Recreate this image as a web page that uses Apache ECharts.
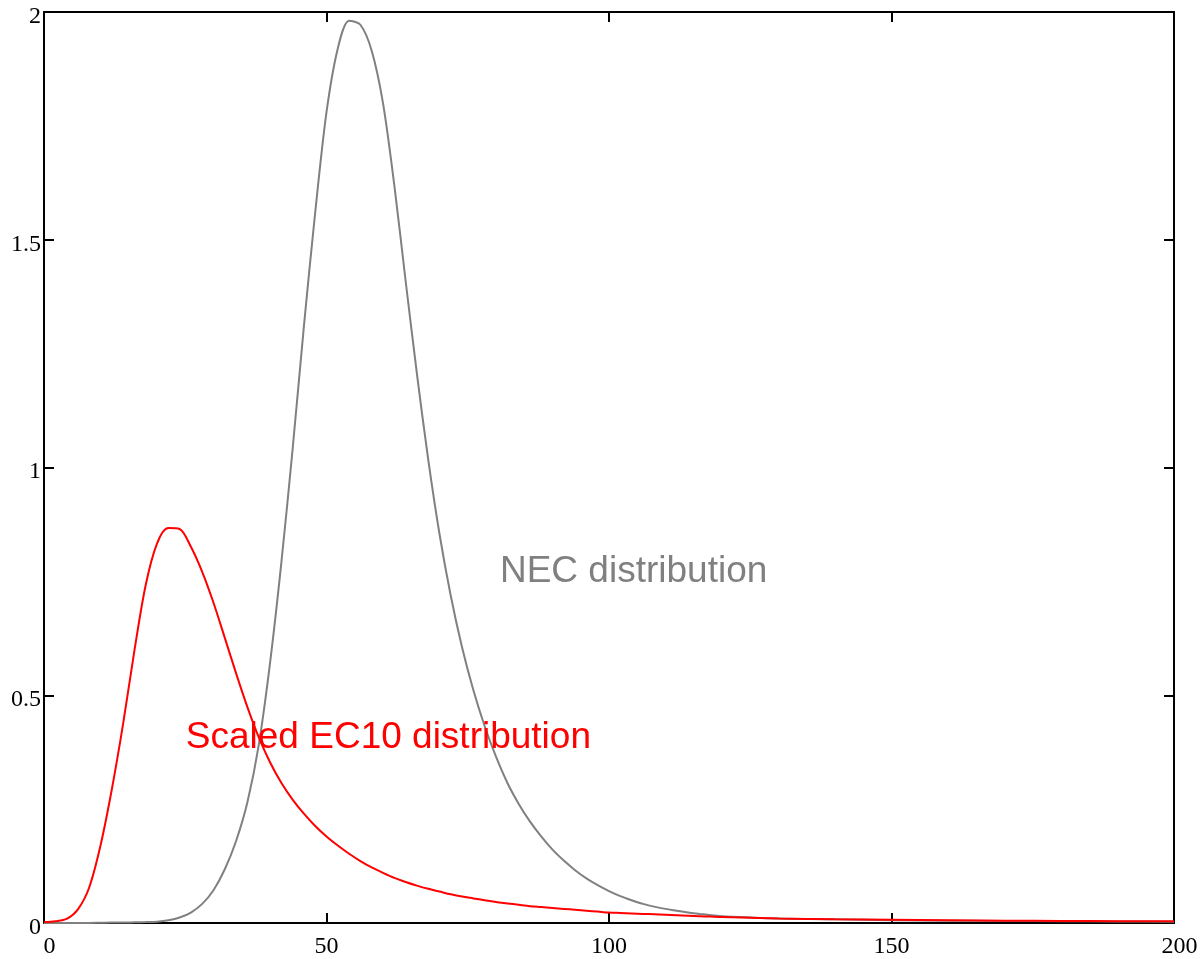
<!DOCTYPE html>
<html>
<head>
<meta charset="utf-8">
<script src="https://cdn.jsdelivr.net/npm/echarts@6/dist/echarts.min.js"></script>
<style>
  html, body { margin: 0; padding: 0; background: #fff; }
  #chart { width: 1201px; height: 959px; }
</style>
</head>
<body>
<div id="chart"></div>
<script>
// values, both curves share the same x points
const concX = [0, 2, 4, 6, 8, 10, 12, 14, 16, 18, 20, 22, 24, 26, 28, 30, 32, 34, 36, 38, 40, 42, 44, 46, 48, 50,
    52, 54, 56, 58, 60, 62, 64, 66, 68, 70, 72, 74, 76, 78, 80, 82, 84, 86, 88, 90, 92, 94, 96, 98, 100,
    102, 104, 106, 108, 110, 112, 114, 116, 118, 120, 130, 140, 150, 160, 170, 180, 190, 200];

const ec10Y = [0.002, 0.004, 0.009, 0.03, 0.078, 0.17, 0.293, 0.437, 0.598, 0.742, 0.833, 0.867, 0.865, 0.826, 0.771, 0.703, 0.626, 0.548, 0.474, 0.408, 0.353, 0.308, 0.271, 0.24, 0.213, 0.19,
    0.17, 0.152, 0.136, 0.122, 0.11, 0.099, 0.09, 0.082, 0.075, 0.069, 0.063, 0.058, 0.054, 0.05, 0.046, 0.043, 0.04, 0.037, 0.035, 0.033, 0.031, 0.029, 0.027, 0.025, 0.023,
    0.022, 0.021, 0.02, 0.019, 0.018, 0.017, 0.016, 0.015, 0.014, 0.013, 0.01, 0.008, 0.007, 0.006, 0.005, 0.0045, 0.004, 0.004];

const necY = [0, 0, 0, 0, 0, 0.0005, 0.001, 0.001, 0.0015, 0.002, 0.003, 0.006, 0.012, 0.023, 0.042, 0.072, 0.118, 0.18, 0.265, 0.39, 0.57, 0.79, 1.04, 1.31, 1.56, 1.78,
    1.92, 1.981, 1.972, 1.915, 1.8, 1.62, 1.41, 1.206, 1.018, 0.854, 0.718, 0.605, 0.511, 0.432, 0.365, 0.308, 0.262, 0.223, 0.19, 0.161, 0.137, 0.116, 0.098, 0.083, 0.07,
    0.059, 0.05, 0.042, 0.036, 0.031, 0.027, 0.023, 0.02, 0.017, 0.015, 0.01, 0.008, 0.006, 0.005, 0.0045, 0.004, 0.0035, 0.003];

const xTicks = [0, 50, 100, 150, 200];
const yTicks = [0, 0.5, 1, 1.5, 2];

const labelNec = { text: 'NEC distribution', x: 80.7, y: 0.772 };
const labelEc10 = { text: 'Scaled EC10 distribution', x: 25.1, y: 0.407 };

const zip = (xs, ys) => xs.map((x, i) => [x, ys[i]]);

const chart = echarts.init(document.getElementById('chart'));

const serifFont = { fontFamily: 'Liberation Serif', fontSize: 24, color: '#000' };
const frameLine = { show: true, onZero: false, lineStyle: { color: '#000', width: 2 } };
const innerTick = { show: true, inside: true, length: 10, lineStyle: { color: '#000', width: 2 } };

const xMin = xTicks[0], xMax = xTicks[xTicks.length - 1];

const options = {
    animation: false,
    backgroundColor: '#fff',
    grid: { left: 44, right: 27, top: 12, bottom: 36 },
    xAxis: [
        {
            type: 'value', position: 'bottom',
            min: xMin, max: xMax, interval: xTicks[1] - xTicks[0],
            axisLine: frameLine, axisTick: innerTick, splitLine: { show: false },
            axisLabel: Object.assign({
                margin: 12,
                // end labels sit a little to the right of their ticks
                formatter: function (v) {
                    return (v === xMin || v === xMax) ? '{e|' + v + '}' : String(v);
                },
                rich: { e: Object.assign({ padding: [0, 0, 0, 11] }, serifFont) }
            }, serifFont)
        },
        {
            type: 'value', position: 'top',
            min: xMin, max: xMax, interval: xTicks[1] - xTicks[0],
            axisLine: frameLine, axisTick: innerTick, splitLine: { show: false },
            axisLabel: { show: false }
        }
    ],
    yAxis: [
        {
            type: 'value', position: 'left',
            min: yTicks[0], max: yTicks[yTicks.length - 1], interval: yTicks[1] - yTicks[0],
            axisLine: frameLine, axisTick: innerTick, splitLine: { show: false },
            axisLabel: Object.assign({
                margin: 3,
                formatter: function (v) { return '{v|' + v + '}'; },
                rich: { v: Object.assign({ padding: [9, 0, 0, 0] }, serifFont) }
            }, serifFont)
        },
        {
            type: 'value', position: 'right',
            min: yTicks[0], max: yTicks[yTicks.length - 1], interval: yTicks[1] - yTicks[0],
            axisLine: frameLine, axisTick: innerTick, splitLine: { show: false },
            axisLabel: { show: false }
        }
    ],
    series: [
        {
            name: 'NEC distribution',
            type: 'line',
            data: zip(concX, necY),
            showSymbol: false,
            smooth: 0.3,
            lineStyle: { color: '#808080', width: 2 },
            itemStyle: { color: '#808080' }
        },
        {
            name: 'Scaled EC10 distribution',
            type: 'line',
            data: zip(concX, ec10Y),
            showSymbol: false,
            smooth: 0.3,
            lineStyle: { color: '#ff0000', width: 2 },
            itemStyle: { color: '#ff0000' }
        }
    ]
};

chart.setOption(options);

// curve names placed in data space
function placeLabel(lab, color) {
    const p = chart.convertToPixel({ gridIndex: 0 }, [lab.x, lab.y]);
    return {
        type: 'text', x: p[0], y: p[1], z: 10,
        style: {
            text: lab.text, fill: color,
            font: '37px "Liberation Sans", Arial, sans-serif',
            textAlign: 'left', textVerticalAlign: 'middle'
        }
    };
}

chart.setOption({
    graphic: [placeLabel(labelNec, '#808080'), placeLabel(labelEc10, '#ff0000')]
});
</script>
</body>
</html>
